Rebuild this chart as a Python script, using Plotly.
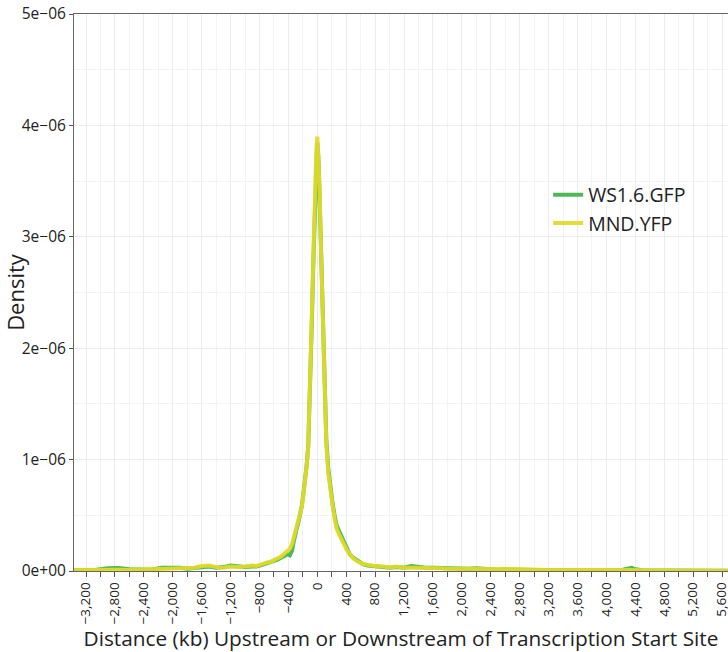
import plotly.graph_objects as go

# distance from TSS (kb)
distance = [-3360, -3200, -3050, -2900, -2750, -2600, -2450, -2300, -2150, -2000,
            -1900, -1800, -1700, -1600, -1500, -1400, -1300, -1200, -1100, -1000,
            -900, -840, -780, -700, -640, -560, -500, -450, -410, -380,
            -350, -330, -310, -285, -260, -240, -215, -195, -170, -147,
            -125, -100, -77, -53, -32, -15, 0, 15, 32, 53,
            77, 99, 125, 152, 180, 213, 240, 268, 300, 337,
            370, 406, 450, 498, 560, 637, 700, 775, 850, 913,
            1006, 1100, 1200, 1300, 1400, 1500, 1600, 1700, 1800, 1900,
            2000, 2100, 2200, 2300, 2400, 2500, 2600, 2700, 2800, 2900,
            3000, 3200, 3400, 3600, 3800, 4000, 4200, 4300, 4350, 4400,
            4500, 4700, 4900, 5100, 5300, 5500, 5680]

# density values, in units of 1e-06
ws16_gfp = [0.008, 0.010, 0.012, 0.025, 0.028, 0.015, 0.010, 0.012, 0.030, 0.035,
            0.030, 0.020, 0.025, 0.035, 0.040, 0.030, 0.035, 0.050, 0.040, 0.035,
            0.040, 0.040, 0.050, 0.065, 0.080, 0.100, 0.120, 0.140, 0.150, 0.140,
            0.180, 0.250, 0.320, 0.380, 0.440, 0.500, 0.580, 0.680, 0.800, 0.950,
            1.120, 1.600, 2.200, 2.800, 3.350, 3.700, 3.850, 3.720, 3.420, 2.880,
            2.300, 1.700, 1.180, 0.920, 0.750, 0.600, 0.500, 0.410, 0.360, 0.310,
            0.250, 0.200, 0.150, 0.120, 0.090, 0.060, 0.050, 0.045, 0.035, 0.035,
            0.030, 0.035, 0.030, 0.045, 0.035, 0.030, 0.030, 0.028, 0.022, 0.025,
            0.020, 0.020, 0.025, 0.020, 0.015, 0.012, 0.015, 0.012, 0.010, 0.012,
            0.010, 0.008, 0.006, 0.006, 0.008, 0.006, 0.008, 0.020, 0.028, 0.015,
            0.006, 0.004, 0.004, 0.004, 0.003, 0.003, 0.003]

mnd_yfp = [0.010, 0.012, 0.010, 0.015, 0.012, 0.010, 0.012, 0.015, 0.020, 0.025,
           0.020, 0.022, 0.030, 0.045, 0.050, 0.035, 0.030, 0.040, 0.035, 0.040,
           0.050, 0.045, 0.060, 0.075, 0.085, 0.114, 0.130, 0.160, 0.180, 0.200,
           0.240, 0.290, 0.340, 0.400, 0.440, 0.490, 0.570, 0.670, 0.800, 0.940,
           1.120, 1.600, 2.250, 2.850, 3.450, 3.750, 3.900, 3.750, 3.450, 2.850,
           2.250, 1.650, 1.140, 0.880, 0.720, 0.580, 0.470, 0.380, 0.330, 0.290,
           0.240, 0.190, 0.150, 0.114, 0.085, 0.063, 0.055, 0.045, 0.040, 0.040,
           0.030, 0.040, 0.030, 0.030, 0.030, 0.030, 0.030, 0.025, 0.020, 0.022,
           0.020, 0.018, 0.020, 0.018, 0.015, 0.015, 0.018, 0.015, 0.012, 0.015,
           0.010, 0.008, 0.008, 0.006, 0.010, 0.006, 0.005, 0.008, 0.010, 0.008,
           0.005, 0.004, 0.004, 0.004, 0.003, 0.003, 0.003]

x_tick_vals = [-3200, -2800, -2400, -2000, -1600, -1200, -800, -400, 0, 400, 800,
               1200, 1600, 2000, 2400, 2800, 3200, 3600, 4000, 4400, 4800, 5200, 5600]
x_tick_text = ["\u22123,200", "\u22122,800", "\u22122,400", "\u22122,000", "\u22121,600",
               "\u22121,200", "\u2212800", "\u2212400", "0", "400", "800", "1,200",
               "1,600", "2,000", "2,400", "2,800", "3,200", "3,600", "4,000", "4,400",
               "4,800", "5,200", "5,600"]
y_tick_vals = [0, 1, 2, 3, 4, 5]
y_tick_text = ["0e+00", "1e\u221206", "2e\u221206", "3e\u221206", "4e\u221206", "5e\u221206"]

FONT = "Open Sans, Lato, sans-serif"

fig = go.Figure()
fig.add_trace(go.Scatter(x=distance, y=ws16_gfp, mode="lines", name="WS1.6.GFP",
                         line=dict(color="#4cb85a", width=4)))
fig.add_trace(go.Scatter(x=distance, y=mnd_yfp, mode="lines", name="MND.YFP",
                         line=dict(color="rgba(226,218,40,0.92)", width=4)))

fig.update_layout(
    width=728, height=652,
    margin=dict(l=74, r=0, t=14, b=81),
    paper_bgcolor="white", plot_bgcolor="white",
    font=dict(family=FONT, color="#222222"),
    legend=dict(x=0.725, y=0.65, xanchor="left", yanchor="middle",
                font=dict(size=19.5, family=FONT, color="#222222"),
                bgcolor="rgba(0,0,0,0)", itemwidth=30, tracegroupgap=0),
    xaxis=dict(
        range=[-3366, 5683], tickmode="array", tickvals=x_tick_vals, ticktext=x_tick_text,
        tickangle=-90, tickfont=dict(size=13.5, family=FONT, color="#222222"),
        ticks="outside", ticklen=5, tickcolor="#555555", ticklabeloverflow="allow",
        showline=True, linecolor="#666666", linewidth=1, mirror=True,
        showgrid=True, gridcolor="#ececec", gridwidth=1, zeroline=False,
        automargin=False,
        minor=dict(dtick=200, tick0=0, ticks="outside", ticklen=5, tickcolor="#555555",
                   showgrid=True, gridcolor="#f3f3f3"),
        title=dict(text="Distance (kb) Upstream or Downstream of Transcription Start Site",
                   font=dict(size=20.8, family=FONT, color="#222222"), standoff=10),
    ),
    yaxis=dict(
        range=[0, 5], tickmode="array", tickvals=y_tick_vals, ticktext=y_tick_text,
        tickfont=dict(size=15.5, family=FONT, color="#222222"),
        ticks="outside", ticklen=4, tickcolor="#555555", ticklabeloverflow="allow",
        showline=True, linecolor="#666666", linewidth=1,
        showgrid=True, gridcolor="#ececec", gridwidth=1, zeroline=False,
        automargin=True,
        minor=dict(dtick=0.5, tick0=0, showgrid=True, gridcolor="#f3f3f3"),
        title=dict(text="Density", font=dict(size=22, family=FONT, color="#222222"), standoff=3),
    ),
)

# remove the default 8px page margin so the fixed-size figure sits at the window origin
fig.write_html("out.html", config={"displayModeBar": False},
               post_script="document.body.style.margin='0';")
